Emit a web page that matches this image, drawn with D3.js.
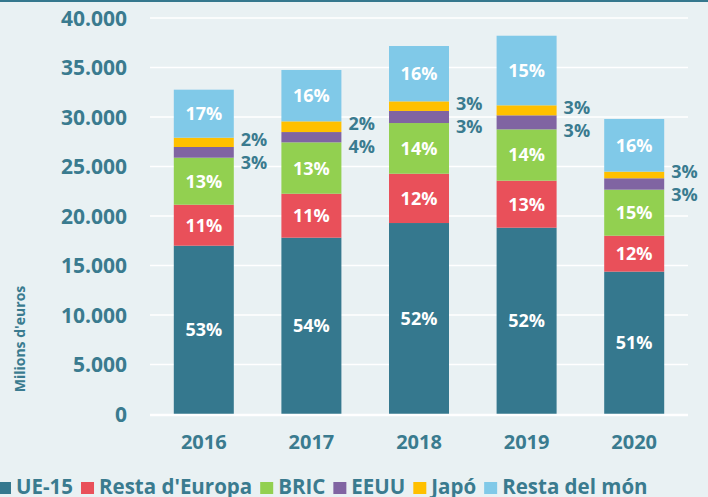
<!DOCTYPE html>
<html lang="ca">
<head>
    <meta charset="UTF-8">
    <title>Exportacions per destinació</title>
    <script src="https://d3js.org/d3.v7.min.js"></script>
    <style>
        body {
            margin: 0;
            padding: 0;
            background-color: #e9f1f3;
            font-family: "Open Sans", sans-serif;
        }
        svg text {
            font-weight: bold;
        }
        .tick-label { fill: #3a7b8f; font-size: 21px; }
        .year-label { fill: #3a7b8f; font-size: 20px; }
        .bar-label { fill: #ffffff; font-size: 18px; }
        .side-label { fill: #3a7b8f; font-size: 18px; }
        .axis-title { fill: #3a7b8f; font-size: 14px; }
        .legend-label { fill: #3a7b8f; font-size: 20.5px; }
    </style>
</head>
<body>
    <div id="chart"></div>
    <script>
        // dades (milions d'euros, llegides del gràfic)
        const years = ["2016", "2017", "2018", "2019", "2020"];
        const series = ["UE-15", "Resta d'Europa", "BRIC", "EEUU", "Japó", "Resta del món"];
        const ue15 = [17000, 17810, 19290, 18820, 14380];
        const restaEuropa = [4140, 4440, 4980, 4750, 3630];
        const bric = [4750, 5190, 5120, 5180, 4650];
        const eeuu = [1080, 1040, 1220, 1420, 1150];
        const japo = [940, 1080, 970, 1010, 670];
        const restaMon = [4850, 5190, 5590, 7030, 5320];

        // etiquetes de percentatge
        const ue15Pct = ["53%", "54%", "52%", "52%", "51%"];
        const restaEuropaPct = ["11%", "11%", "12%", "13%", "12%"];
        const bricPct = ["13%", "13%", "14%", "14%", "15%"];
        const eeuuPct = ["3%", "4%", "3%", "3%", "3%"];
        const japoPct = ["2%", "2%", "3%", "3%", "3%"];
        const restaMonPct = ["17%", "16%", "16%", "15%", "16%"];

        const yTicks = [0, 5000, 10000, 15000, 20000, 25000, 30000, 35000, 40000];
        const colors = ["#35788e", "#e9505a", "#92d050", "#8064a2", "#ffc000", "#80c9e8"];

        const W = 708, H = 497;
        const plot = {left: 150, right: 688, top: 18, bottom: 414};

        const svg = d3.select("#chart").append("svg")
            .attr("width", W)
            .attr("height", H);

        svg.append("rect")
            .attr("width", W).attr("height", H)
            .attr("fill", "#e9f1f3");

        // franja superior
        svg.append("rect")
            .attr("x", 0).attr("y", 0)
            .attr("width", W).attr("height", 2)
            .attr("fill", "#35788e");

        const x = d3.scaleBand()
            .domain(years)
            .range([plot.left, plot.right])
            .paddingInner(0.4424)
            .paddingOuter(0.2212);

        const y = d3.scaleLinear()
            .domain([0, 40000])
            .range([plot.bottom, plot.top]);

        // taula per a d3.stack
        const cols = [ue15, restaEuropa, bric, eeuu, japo, restaMon];
        const pcts = [ue15Pct, restaEuropaPct, bricPct, eeuuPct, japoPct, restaMonPct];
        const table = years.map((yr, i) => {
            const row = {year: yr};
            series.forEach((s, k) => row[s] = cols[k][i]);
            return row;
        });
        const stacked = d3.stack().keys(series)(table);

        // línies de graella
        svg.append("g")
            .selectAll("line")
            .data(yTicks.filter(t => t > 0))
            .join("line")
            .attr("x1", plot.left).attr("x2", plot.right)
            .attr("y1", d => y(d)).attr("y2", d => y(d))
            .attr("stroke", "#ffffff")
            .attr("stroke-width", 1.5);

        // etiquetes de l'eix Y
        svg.append("g")
            .selectAll("text")
            .data(yTicks)
            .join("text")
            .attr("class", "tick-label")
            .attr("x", 127)
            .attr("y", d => y(d))
            .attr("dy", "0.36em")
            .attr("text-anchor", "end")
            .text(d => d === 0 ? "0" : d3.format(",")(d).replace(/,/g, "."));

        // barres
        const layers = svg.append("g")
            .selectAll("g")
            .data(stacked)
            .join("g")
            .attr("fill", (d, i) => colors[i]);

        layers.selectAll("rect")
            .data(d => d)
            .join("rect")
            .attr("x", d => x(d.data.year))
            .attr("y", d => y(d[1]))
            .attr("width", x.bandwidth())
            .attr("height", d => y(d[0]) - y(d[1]));

        // línia base
        svg.append("line")
            .attr("x1", plot.left).attr("x2", plot.right)
            .attr("y1", y(0) + 1).attr("y2", y(0) + 1)
            .attr("stroke", "#ffffff")
            .attr("stroke-width", 2.5);

        // etiquetes dins les barres
        [0, 1, 2, 5].forEach(k => {
            svg.append("g")
                .selectAll("text")
                .data(stacked[k])
                .join("text")
                .attr("class", "bar-label")
                .attr("x", d => x(d.data.year) + x.bandwidth() / 2)
                .attr("y", d => (y(d[0]) + y(d[1])) / 2)
                .attr("dy", "0.36em")
                .attr("text-anchor", "middle")
                .text((d, i) => pcts[k][i]);
        });

        // etiquetes laterals: Japó (a dalt) i EEUU (a sota)
        const side = svg.append("g");
        stacked[4].forEach((d, i) => {
            const cy = (y(d[0]) + y(d[1])) / 2 - 3;
            const lx = x(d.data.year) + x.bandwidth() + 7;
            side.append("text")
                .attr("class", "side-label")
                .attr("x", lx).attr("y", cy)
                .attr("dy", "0.36em")
                .text(japoPct[i]);
            side.append("text")
                .attr("class", "side-label")
                .attr("x", lx).attr("y", cy + 23)
                .attr("dy", "0.36em")
                .text(eeuuPct[i]);
        });

        // etiquetes de l'eix X
        svg.append("g")
            .selectAll("text")
            .data(years)
            .join("text")
            .attr("class", "year-label")
            .attr("x", d => x(d) + x.bandwidth() / 2)
            .attr("y", 442)
            .attr("dy", "0.36em")
            .attr("text-anchor", "middle")
            .text(d => d);

        // títol de l'eix Y
        svg.append("text")
            .attr("class", "axis-title")
            .attr("transform", "translate(25,339) rotate(-90)")
            .attr("text-anchor", "middle")
            .text("Milions d'euros");

        // llegenda
        const legend = svg.append("g");
        let lx = -2;
        series.forEach((s, i) => {
            legend.append("rect")
                .attr("x", lx).attr("y", 482)
                .attr("width", 13).attr("height", 12)
                .attr("fill", colors[i]);
            const t = legend.append("text")
                .attr("class", "legend-label")
                .attr("x", lx + 18).attr("y", 494)
                .text(s);
            lx += 18 + t.node().getComputedTextLength() + 8;
        });
    </script>
</body>
</html>
